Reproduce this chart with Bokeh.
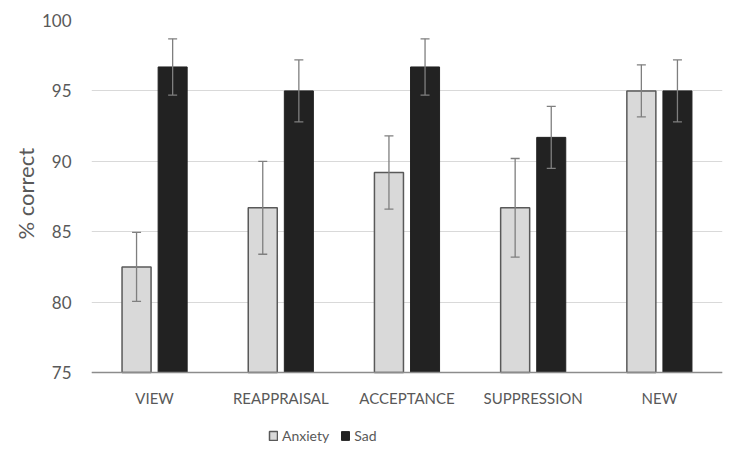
from bokeh.plotting import figure
from bokeh.models import (ColumnDataSource, FactorRange, Whisker, TeeHead, Legend, LegendItem,
                          Range1d, FixedTicker, Span, Title)
from bokeh.core.properties import value
from bokeh.transform import dodge
from bokeh.embed import file_html
from bokeh.resources import INLINE

categories = ["VIEW", "REAPPRAISAL", "ACCEPTANCE", "SUPPRESSION", "NEW"]
anxiety = [82.5, 86.7, 89.2, 86.7, 95.0]
anxiety_err = [2.45, 3.3, 2.6, 3.5, 1.85]
sad = [96.7, 95.0, 96.7, 91.7, 95.0]
sad_err = [2.0, 2.2, 2.0, 2.2, 2.2]
y_ticks = [75, 80, 85, 90, 95, 100]

FONT = "Lato"
TXT = "#595959"

# plot geometry (pixels)
DATA_PX = 352      # height of the 75..100 span
BELOW_PX = 74      # space below the baseline for category labels and legend
y0, y1 = y_ticks[0], y_ticks[-1]
y_start = y0 - BELOW_PX * (y1 - y0) / DATA_PX

src_a = ColumnDataSource(dict(
    cat=categories, val=anxiety,
    lo=[v - e for v, e in zip(anxiety, anxiety_err)],
    hi=[v + e for v, e in zip(anxiety, anxiety_err)]))
src_s = ColumnDataSource(dict(
    cat=categories, val=sad,
    lo=[v - e for v, e in zip(sad, sad_err)],
    hi=[v + e for v, e in zip(sad, sad_err)]))
src_lab = ColumnDataSource(dict(cat=categories, y=[y0] * len(categories)))

p = figure(x_range=FactorRange(*categories), y_range=Range1d(y_start, y1),
           frame_width=631, frame_height=DATA_PX + BELOW_PX,
           output_backend="svg", toolbar_location=None,
           min_border_left=91, min_border_right=1, min_border_top=20, min_border_bottom=0)
p.outline_line_color = None
p.xaxis.visible = False

ra = p.vbar(x=dodge("cat", -0.143, range=p.x_range), top="val", bottom=y0, width=0.23,
            source=src_a, fill_color="#d9d9d9", line_color="#595959", line_width=1.5)
rs = p.vbar(x=dodge("cat", 0.143, range=p.x_range), top="val", bottom=y0, width=0.23,
            source=src_s, fill_color="#222222", line_color="#222222", line_width=1)

for src, off in ((src_a, -0.143), (src_s, 0.143)):
    w = Whisker(base=dodge("cat", off, range=p.x_range), lower="lo", upper="hi", source=src,
                line_color="#7f7f7f", line_width=1.3, level="overlay",
                upper_head=TeeHead(size=9, line_color="#7f7f7f", line_width=1.3),
                lower_head=TeeHead(size=9, line_color="#7f7f7f", line_width=1.3))
    p.add_layout(w)

# category axis baseline and labels
p.add_layout(Span(location=y0, dimension="width", line_color="#8c8c8c", line_width=1.3))
p.text(x="cat", y="y", text="cat", source=src_lab, y_offset=25,
       text_align="center", text_baseline="middle",
       text_font=value(FONT), text_font_size="15px", text_color=TXT)

p.yaxis.ticker = FixedTicker(ticks=y_ticks)
p.yaxis.axis_line_color = None
p.yaxis.major_tick_line_color = None
p.yaxis.minor_tick_line_color = None
p.yaxis.major_tick_out = 0
p.yaxis.major_label_text_font = FONT
p.yaxis.major_label_text_font_size = "17px"
p.yaxis.major_label_text_color = TXT
p.yaxis.major_label_standoff = 20

p.add_layout(Title(text="% correct", align="left", offset=207,
                   text_font=FONT, text_font_size="22px", text_font_style="normal",
                   text_color=TXT, standoff=0), "left")

p.xgrid.grid_line_color = None
p.ygrid.grid_line_color = "#d9d9d9"
p.ygrid.grid_line_width = 1

legend = Legend(items=[LegendItem(label="Anxiety", renderers=[ra]),
                       LegendItem(label="Sad", renderers=[rs])],
                orientation="horizontal", location=(177, 2),
                label_text_font=FONT, label_text_font_size="14px", label_text_color=TXT,
                glyph_width=10, glyph_height=11, label_standoff=4, spacing=11,
                label_height=14, border_line_color=None, background_fill_alpha=0,
                padding=2, margin=0)
p.add_layout(legend, "center")

open("out.html", "w").write(file_html(p, INLINE))
